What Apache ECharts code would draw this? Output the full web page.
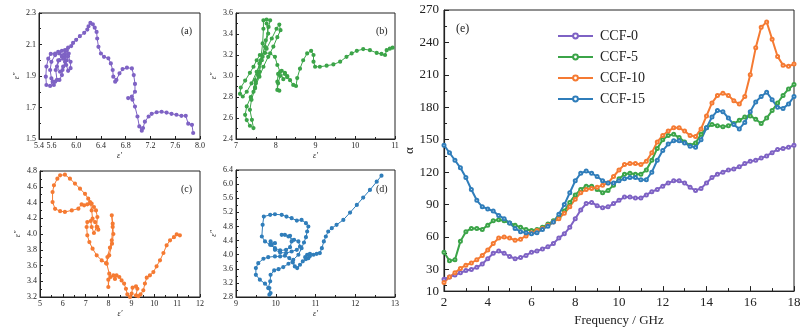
<!DOCTYPE html>
<html>
<head>
<meta charset="utf-8">
<script src="https://cdn.jsdelivr.net/npm/echarts@6/dist/echarts.min.js"></script>
<style>
  html, body { margin: 0; padding: 0; background: #fff; }
  #chart { width: 812px; height: 332px; }
</style>
</head>
<body>
<div id="chart"></div>
<script>
// ---------- data ----------
// (a) CCF-0 Cole-Cole [ε', ε'']
const coleA = [
  [7.89,1.538],[7.87,1.59],[7.81,1.597],[7.77,1.647],[7.70,1.647],[7.62,1.654],[7.54,1.66],[7.46,1.668],
  [7.38,1.673],[7.30,1.67],[7.22,1.66],[7.17,1.643],[7.11,1.61],[7.08,1.57],[7.06,1.553],[7.02,1.58],
  [6.99,1.643],[6.95,1.706],[6.91,1.75],[6.84,1.76],[6.90,1.77],[6.95,1.80],[6.95,1.85],[6.93,1.906],
  [6.90,1.948],[6.82,1.953],[6.75,1.944],[6.70,1.917],[6.65,1.875],[6.63,1.864],[6.60,1.896],[6.59,1.938],
  [6.56,1.98],[6.52,2.012],[6.45,2.022],[6.40,2.043],[6.36,2.085],[6.34,2.138],[6.33,2.18],[6.30,2.207],
  [6.27,2.228],[6.23,2.237],[6.20,2.216],[6.18,2.195],[6.13,2.174],[6.06,2.153],[6.00,2.13],[5.95,2.11],
  [5.92,2.09],[5.87,2.08],[5.82,2.064],[5.77,2.06],[5.71,2.054],[5.66,2.043],[5.59,2.04],[5.55,2.01],
  [5.52,1.96],[5.51,1.896],[5.52,1.843],[5.58,1.837],[5.62,1.864],[5.64,1.843],[5.69,1.875],[5.67,1.938],
  [5.71,2.0],[5.77,2.026],[5.82,2.04],[5.87,2.026],[5.91,1.99],[5.91,1.95],[5.87,1.933],[5.84,1.97],
  [5.82,2.02],[5.85,2.064],[5.88,2.043],[5.85,2.0],[5.79,1.959],[5.77,1.906],[5.73,1.875],[5.66,1.864],
  [5.60,1.885],[5.58,1.938],[5.60,1.99],[5.66,2.033],[5.73,2.043],[5.79,2.033],[5.82,1.99],[5.78,1.938],
  [5.74,1.927],[5.69,1.96],[5.73,2.0],[5.79,2.01]
];
// (b) CCF-5
const coleB = [
  [10.94,3.27],[10.87,3.26],[10.79,3.246],[10.75,3.20],[10.66,3.21],[10.54,3.22],[10.37,3.246],[10.20,3.256],
  [10.04,3.24],[9.91,3.215],[9.78,3.183],[9.62,3.136],[9.45,3.11],[9.28,3.098],[9.11,3.088],[8.99,3.088],
  [8.95,3.136],[8.95,3.2],[8.89,3.24],[8.79,3.215],[8.69,3.15],[8.61,3.07],[8.54,2.98],[8.51,2.905],
  [8.44,2.915],[8.36,2.96],[8.29,3.0],[8.23,3.03],[8.15,3.05],[8.06,3.02],[8.04,2.946],[8.04,2.867],
  [8.09,2.86],[8.06,2.93],[8.11,3.0],[8.23,3.02],[8.29,2.99],[8.19,2.97],[8.11,3.04],[8.04,3.105],
  [7.98,3.183],[7.86,3.215],[7.73,3.22],[7.60,3.2],[7.52,3.15],[7.44,3.088],[7.35,3.03],[7.23,2.956],
  [7.12,2.89],[7.10,2.83],[7.17,2.805],[7.27,2.85],[7.39,2.93],[7.52,3.04],[7.65,3.15],[7.77,3.26],
  [7.90,3.357],[8.02,3.45],[8.09,3.49],[8.12,3.436],[8.04,3.37],[7.94,3.28],[7.81,3.183],[7.69,3.088],
  [7.59,2.994],[7.48,2.893],[7.37,2.798],[7.27,2.71],[7.23,2.63],[7.27,2.58],[7.35,2.526],[7.44,2.504],
  [7.40,2.583],[7.35,2.678],[7.39,2.773],[7.48,2.883],[7.56,3.01],[7.62,3.15],[7.67,3.31],[7.69,3.45],
  [7.69,3.53],[7.77,3.537],[7.86,3.53],[7.82,3.467],[7.75,3.34],[7.67,3.183],[7.59,3.04],[7.50,2.93],
  [7.44,2.85],[7.48,2.96],[7.59,3.12],[7.73,3.278],[7.81,3.404],[7.77,3.5]
];
// (c) CCF-10
const coleC = [
  [11.12,3.983],[10.98,3.996],[10.86,3.96],[10.69,3.92],[10.54,3.856],[10.40,3.759],[10.25,3.666],[10.10,3.59],
  [9.96,3.517],[9.81,3.475],[9.67,3.445],[9.59,3.37],[9.52,3.285],[9.40,3.234],[9.30,3.21],[9.20,3.22],
  [9.26,3.305],[9.20,3.335],[9.05,3.318],[9.01,3.242],[8.94,3.2],[8.82,3.234],[8.76,3.305],[8.68,3.37],
  [8.57,3.41],[8.47,3.454],[8.35,3.475],[8.28,3.43],[8.21,3.475],[8.09,3.454],[7.99,3.42],[7.99,3.327],
  [8.03,3.496],[7.92,3.623],[7.95,3.708],[8.06,3.826],[8.14,3.92],[8.18,4.09],[8.14,4.237],[8.18,4.131],
  [8.21,4.0],[8.15,3.877],[8.03,3.729],[7.89,3.63],[7.70,3.665],[7.48,3.729],[7.30,3.814],[7.16,3.898],
  [7.07,3.983],[7.04,4.089],[7.07,4.152],[7.22,4.165],[7.26,4.089],[7.36,4.013],[7.48,4.09],[7.51,4.216],
  [7.45,4.3],[7.36,4.343],[7.26,4.385],[7.19,4.406],[7.07,4.377],[6.93,4.364],[6.82,4.377],[6.68,4.322],
  [6.39,4.3],[6.09,4.28],[5.88,4.29],[5.66,4.32],[5.55,4.406],[5.55,4.533],[5.61,4.618],[5.76,4.703],
  [5.88,4.745],[6.09,4.753],[6.31,4.703],[6.53,4.64],[6.75,4.576],[6.97,4.51],[7.11,4.449],[7.22,4.385],
  [7.26,4.3],[7.30,4.195],[7.41,4.152],[7.51,4.089],[7.55,4.055]
];
// (d) CCF-15
const coleD = [
  [12.66,6.24],[12.54,6.07],[12.37,5.835],[12.20,5.618],[12.04,5.41],[11.87,5.194],[11.70,4.986],[11.53,4.845],
  [11.41,4.75],[11.32,4.656],[11.26,4.515],[11.21,4.374],[11.16,4.185],[11.11,4.044],[11.03,4.025],[10.95,3.997],
  [10.86,4.025],[10.79,3.997],[10.74,3.93],[10.82,3.90],[10.86,3.96],[10.76,3.875],[10.68,3.81],[10.61,3.714],
  [10.54,3.62],[10.48,3.667],[10.43,3.78],[10.34,3.903],[10.23,3.97],[10.11,3.95],[9.98,3.95],[9.81,3.93],
  [9.69,3.884],[9.56,3.76],[9.50,3.62],[9.50,3.43],[9.60,3.29],[9.73,3.177],[9.84,3.054],[9.87,2.912],
  [9.84,2.866],[9.81,3.054],[9.86,3.243],[9.87,3.43],[9.96,3.554],[10.07,3.59],[10.19,3.648],[10.32,3.742],
  [10.44,3.855],[10.57,3.997],[10.65,4.185],[10.71,4.345],[10.76,4.496],[10.79,4.656],[10.82,4.798],[10.76,4.892],
  [10.65,4.986],[10.53,4.967],[10.40,5.034],[10.27,5.08],[10.15,5.128],[9.98,5.146],[9.86,5.128],[9.70,5.08],
  [9.67,4.845],[9.65,4.515],[9.73,4.374],[9.86,4.28],[9.98,4.185],[10.11,4.119],[10.26,4.138],[10.36,4.213],
  [10.40,4.374],[10.36,4.534],[10.23,4.562],[10.15,4.562],[10.32,4.515],[10.46,4.42],[10.57,4.374],[10.61,4.232],
  [10.53,4.138],[10.40,4.09],[10.26,4.044],[10.11,4.063],[9.98,4.138],[9.90,4.28],[9.87,4.374],[9.98,4.327]
];

// (e) attenuation constant vs frequency
const freq = [
  2,2.25,2.5,2.75,3,3.25,3.5,3.75,4,4.25,4.5,4.75,5,5.25,5.5,5.75,
  6,6.25,6.5,6.75,7,7.25,7.5,7.75,8,8.25,8.5,8.75,9,9.25,9.5,9.75,
  10,10.25,10.5,10.75,11,11.25,11.5,11.75,12,12.25,12.5,12.75,13,13.25,13.5,13.75,
  14,14.25,14.5,14.75,15,15.25,15.5,15.75,16,16.25,16.5,16.75,17,17.25,17.5,17.75,18
];
const ccf0 = [21,23,25,27,29,30,32,35, 40,45,47,45,42,40,41,43, 46,47,49,51,54,59,63,69,
  77,85,91,92,89,87,88,91, 94,97,97,96,96,99,102,104, 107,110,112,112,110,106,103,105,
  110,115,118,120,122,123,125,128, 130,131,133,135,138,141,142,143, 145];
const ccf5 = [46,38,39,56,65,68,68,67, 71,75,76,75,73,71,69,67, 66,67,69,72,75,78,84,92,
  99,104,107,107,104,101,103,108, 114,118,119,118,118,122,131,142, 150,154,155,152,148,145,147,155,
  161,164,163,162,163,165,168,171, 172,169,165,170,177,184,191,197, 201];
const ccf10 = [18,23,27,31,34,36,39,43, 48,54,59,60,59,57,58,61, 64,66,68,71,74,77,82,88,
  95,101,104,105,106,108,110,116, 122,127,128,128,127,130,138,148, 154,158,161,161,158,154,153,160,
  172,184,191,193,191,186,183,190, 210,235,254,259,243,227,219,218, 220];
const ccf15 = [145,138,131,124,115,104,94,88, 86,84,80,77,73,68,65,64, 63,64,67,70,74,81,90,101,
  112,119,121,119,116,112,110,110, 112,114,115,115,113,113,120,131, 140,146,149,149,147,144,143,150,
  161,171,177,176,170,164,160,166, 176,185,190,194,187,180,179,183, 190];

const names = ["CCF-0", "CCF-5", "CCF-10", "CCF-15"];
const colors = ["#7e62c4", "#3ba448", "#f57a32", "#2f7dba"];
const alphaTicks = [10, 30, 60, 90, 120, 150, 180, 210, 240, 270];
const alphaMinor = [15, 45, 75, 105, 135, 165, 195, 225, 255];
const aXTicks = [5.4, 5.6, 6.0, 6.4, 6.8, 7.2, 7.6, 8.0];

// ---------- chart ----------
const FONT = "Liberation Serif";
const INK = "#222";
const chart = echarts.init(document.getElementById("chart"), null, { renderer: "canvas" });

function smallX(idx, min, max, interval, digits, extra) {
  return Object.assign({
    gridIndex: idx, type: "value", min, max, interval,
    name: "ε′", nameLocation: "middle", nameGap: 13,
    nameTextStyle: { fontFamily: FONT, fontStyle: "italic", fontSize: 8, color: INK },
    axisLine: { show: true, lineStyle: { color: INK, width: 1 } },
    axisTick: { show: true, inside: true, length: 3, lineStyle: { color: INK } },
    minorTick: { show: true, splitNumber: 2, length: 2, lineStyle: { color: INK } },
    axisLabel: { fontFamily: FONT, fontSize: 8, color: INK, margin: 3, formatter: v => v.toFixed(digits) },
    splitLine: { show: false }
  }, extra || {});
}
function smallY(idx, min, max, interval) {
  return {
    gridIndex: idx, type: "value", min, max, interval,
    name: "ε″", nameLocation: "middle", nameGap: 18,
    nameTextStyle: { fontFamily: FONT, fontStyle: "italic", fontSize: 8, color: INK },
    axisLine: { show: true, lineStyle: { color: INK, width: 1 } },
    axisTick: { show: true, inside: true, length: 3, lineStyle: { color: INK } },
    minorTick: { show: true, splitNumber: 2, length: 2, lineStyle: { color: INK } },
    axisLabel: { fontFamily: FONT, fontSize: 8, color: INK, margin: 3, formatter: v => v.toFixed(1) },
    splitLine: { show: false }
  };
}

const frame = { show: true, borderColor: INK, borderWidth: 1, backgroundColor: "transparent" };

const coleSets = [coleA, coleB, coleC, coleD];
const coleSeries = coleSets.map((d, i) => ({
  type: "line", xAxisIndex: i, yAxisIndex: i, data: d,
  symbol: "emptyCircle", symbolSize: 2.2, showAllSymbol: true,
  lineStyle: { color: colors[i], width: 1 },
  itemStyle: { color: colors[i], borderWidth: 0.8 },
  silent: true
}));

const alphaSets = [ccf0, ccf5, ccf10, ccf15];
const alphaSeries = alphaSets.map((vals, i) => ({
  name: names[i], type: "line", xAxisIndex: 4, yAxisIndex: 4,
  data: freq.map((f, k) => [f, vals[k]]),
  symbol: "emptyCircle", symbolSize: 3, showAllSymbol: true,
  lineStyle: { color: colors[i], width: 2 },
  itemStyle: { color: colors[i], borderWidth: 1 }
}));

const panelLabel = (x, y, t) => ({
  type: "text", left: x, top: y,
  style: { text: t, fontFamily: FONT, fontSize: 10, fill: INK }
});

chart.setOption({
  animation: false,
  grid: [
    Object.assign({ left: 39, top: 13, width: 161, height: 126 }, frame),
    Object.assign({ left: 236, top: 13, width: 159, height: 126 }, frame),
    Object.assign({ left: 40, top: 171, width: 160, height: 126 }, frame),
    Object.assign({ left: 236, top: 170, width: 159, height: 127 }, frame),
    Object.assign({ left: 444, top: 10, width: 350, height: 283 }, frame)
  ],
  legend: {
    data: names, orient: "vertical", left: 552, top: 24, itemWidth: 35, itemHeight: 6, itemGap: 7,
    textStyle: { fontFamily: FONT, fontSize: 14, color: INK, padding: [0, 0, 0, 2] }
  },
  xAxis: [
    smallX(0, 5.4, 8.0, 0.2, 1, {
      axisLabel: { fontFamily: FONT, fontSize: 8, color: INK, margin: 3, customValues: aXTicks, formatter: v => v.toFixed(1) },
      axisTick: { show: true, inside: true, length: 3, customValues: aXTicks, lineStyle: { color: INK } },
      minorTick: { show: false }
    }),
    smallX(1, 7, 11, 1, 0),
    smallX(2, 5, 12, 1, 0),
    smallX(3, 9, 13, 1, 0),
    {
      gridIndex: 4, type: "value", min: 2, max: 18, interval: 2,
      name: "Frequency / GHz", nameLocation: "middle", nameGap: 22,
      nameTextStyle: { fontFamily: FONT, fontSize: 13, color: INK },
      axisLine: { show: true, lineStyle: { color: INK, width: 1.2 } },
      axisTick: { show: true, inside: true, length: 5, lineStyle: { color: INK } },
      minorTick: { show: true, splitNumber: 2, length: 3, lineStyle: { color: INK } },
      axisLabel: { fontFamily: FONT, fontSize: 13, color: INK, margin: 5 },
      splitLine: { show: false }
    }
  ],
  yAxis: [
    smallY(0, 1.5, 2.3, 0.2),
    smallY(1, 2.4, 3.6, 0.2),
    smallY(2, 3.2, 4.8, 0.2),
    smallY(3, 2.8, 6.4, 0.4),
    {
      gridIndex: 4, type: "value", min: 10, max: 270,
      name: "α", nameLocation: "middle", nameGap: 27,
      nameTextStyle: { fontFamily: FONT, fontSize: 13, color: INK },
      axisLine: { show: true, lineStyle: { color: INK, width: 1.2 } },
      axisTick: { show: true, inside: true, length: 5, customValues: alphaTicks.slice(1), lineStyle: { color: INK } },
      axisLabel: { fontFamily: FONT, fontSize: 13, color: INK, margin: 5, customValues: alphaTicks },
      splitLine: { show: false }
    },
    {
      gridIndex: 4, type: "value", min: 10, max: 270, position: "left",
      axisLine: { show: false },
      axisTick: { show: true, inside: true, length: 3, customValues: alphaMinor, lineStyle: { color: INK } },
      axisLabel: { show: false },
      splitLine: { show: false }
    }
  ],
  graphic: [
    panelLabel(181, 26, "(a)"),
    panelLabel(376, 26, "(b)"),
    panelLabel(181, 184, "(c)"),
    panelLabel(376, 184, "(d)"),
    Object.assign(panelLabel(456, 23, "(e)"), { style: { text: "(e)", fontFamily: FONT, fontSize: 12, fill: INK } })
  ],
  series: coleSeries.concat(alphaSeries)
});

window.addEventListener("resize", () => chart.resize());
</script>
</body>
</html>
